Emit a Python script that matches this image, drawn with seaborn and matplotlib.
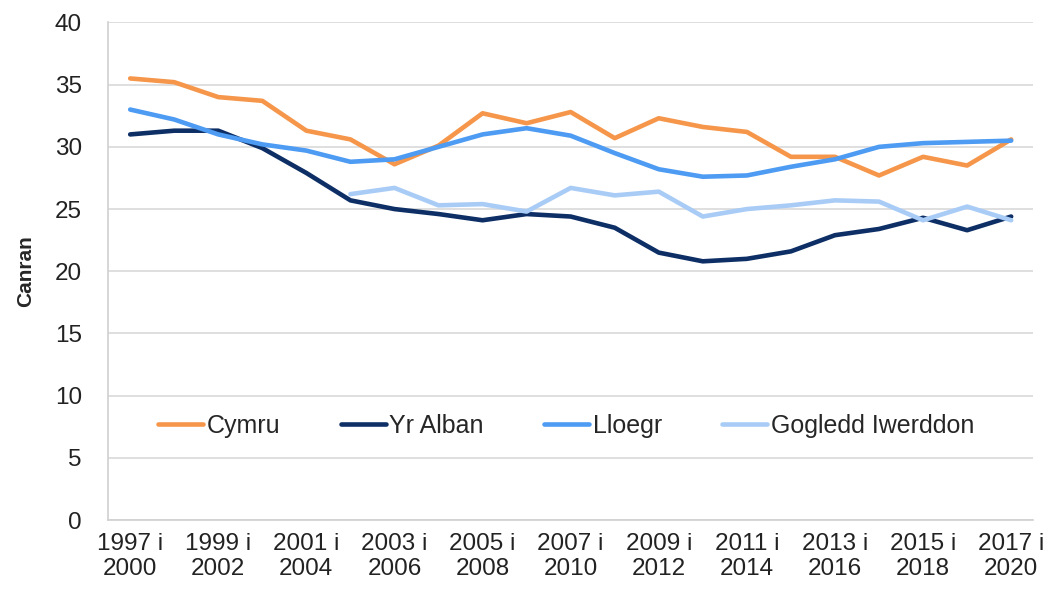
import numpy as np
import pandas as pd
import seaborn as sns
import matplotlib.pyplot as plt

periods = [f"{y} i\n{y + 3}" for y in range(1997, 2018)]

cymru = [35.5, 35.2, 34.0, 33.7, 31.3, 30.6, 28.6, 30.1, 32.7, 31.9, 32.8,
         30.7, 32.3, 31.6, 31.2, 29.2, 29.2, 27.7, 29.2, 28.5, 30.6]
yr_alban = [31.0, 31.3, 31.3, 29.9, 27.9, 25.7, 25.0, 24.6, 24.1, 24.6, 24.4,
            23.5, 21.5, 20.8, 21.0, 21.6, 22.9, 23.4, 24.3, 23.3, 24.4]
lloegr = [33.0, 32.2, 31.0, 30.2, 29.7, 28.8, 29.0, 30.0, 31.0, 31.5, 30.9,
          29.5, 28.2, 27.6, 27.7, 28.4, 29.0, 30.0, 30.3, 30.4, 30.5]
gogledd = [np.nan] * 5 + [26.2, 26.7, 25.3, 25.4, 24.8, 26.7,
                          26.1, 26.4, 24.4, 25.0, 25.3, 25.7, 25.6, 24.1, 25.2, 24.1]

names = ["Cymru", "Yr Alban", "Lloegr", "Gogledd Iwerddon"]
colours = ["#F5964A", "#0D2F66", "#4D9BF2", "#A9CCF6"]

rows = []
for name, vals in zip(names, [cymru, yr_alban, lloegr, gogledd]):
    for i, v in enumerate(vals):
        rows.append({"idx": i, "gwlad": name, "canran": v})
df = pd.DataFrame(rows).dropna()

sns.set_style("white")
plt.rcParams["font.family"] = ["Liberation Sans", "DejaVu Sans"]

fig, ax = plt.subplots(figsize=(10.5, 5.91), dpi=100)
fig.subplots_adjust(left=0.103, right=0.984, top=0.962, bottom=0.12)

sns.lineplot(data=df, x="idx", y="canran", hue="gwlad", hue_order=names,
             palette=colours, linewidth=3.3, ax=ax)

ax.set_xlim(-0.5, len(periods) - 0.5)
ax.set_ylim(0, 40)
ax.set_yticks(range(0, 41, 5))
ax.yaxis.grid(True, color="#D9D9D9", linewidth=1.2)
ax.set_axisbelow(True)

ax.set_xticks(range(0, len(periods), 2))
ax.set_xticklabels(periods[::2], linespacing=1.2)
ax.set_xticks(np.arange(-0.5, len(periods), 1), minor=True)
ax.tick_params(axis="x", which="major", length=0, pad=9, labelsize=17.5, colors="#222222")
ax.tick_params(axis="x", which="minor", length=7, width=1, color="#BFBFBF", direction="out")
ax.tick_params(axis="y", length=7, width=1, color="#BFBFBF", labelsize=17.5,
               labelcolor="#222222", pad=12)

for s in ["top", "right"]:
    ax.spines[s].set_visible(False)
for s in ["left", "bottom"]:
    ax.spines[s].set_color("#D0D0D0")
    ax.spines[s].set_linewidth(1.2)

ax.set_xlabel("")
ax.set_ylabel("Canran", fontsize=15, fontweight="bold", labelpad=14)

ax.legend(loc="center", bbox_to_anchor=(0.495, 0.19), ncol=4, frameon=False,
          fontsize=18, handlelength=1.8, handletextpad=0.15, columnspacing=2.4)

plt.savefig("out.png", dpi=100)
